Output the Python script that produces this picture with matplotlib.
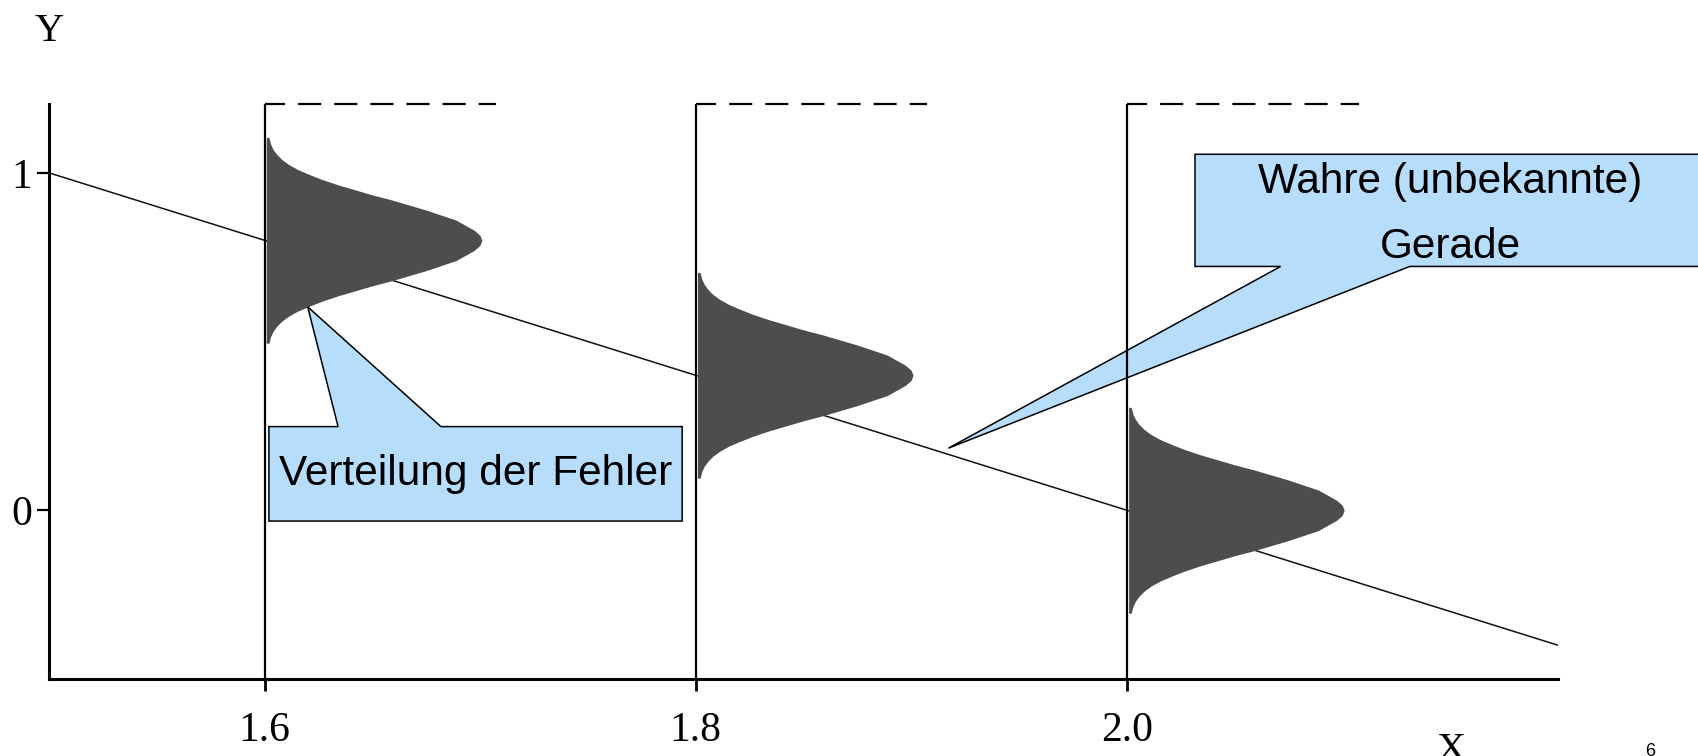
#!/usr/bin/env python3
# -*- coding: utf-8 -*-
"""
Regressionsmodell: wahre Gerade mit Fehlerverteilungen an drei x-Stellen
"""

import matplotlib
matplotlib.use('Agg')
import matplotlib.pyplot as plt
from matplotlib.patches import Polygon

# Daten
gerade_x = [1.5, 2.2]
gerade_y = [1.0, -0.4]

x_stellen = [1.6, 1.8, 2.0]
y_mitte = [0.8, 0.4, 0.0]

# Profil der Fehlerverteilung (halbe Seite, Abstand vom Mittelwert -> Breite in x)
profil_dy = [0.0, 0.015, 0.03, 0.045, 0.06, 0.075, 0.09, 0.105, 0.12, 0.135, 0.15,
             0.165, 0.18, 0.195, 0.21, 0.225, 0.24, 0.255, 0.27, 0.285, 0.305]
profil_breite = [0.100, 0.0991, 0.0964, 0.0922, 0.088, 0.081, 0.074, 0.066, 0.058, 0.049, 0.041,
                 0.033, 0.026, 0.020, 0.0145, 0.0103, 0.0071, 0.0048, 0.0031, 0.002, 0.0012]

x_ticks = [1.6, 1.8, 2.0]
x_ticklabels = ['1.6', '1.8', '2.0']
y_ticks = [0, 1]
y_ticklabels = ['0', '1']

HELLBLAU = '#B7DDFC'
GRAU = '#4D4D4D'

plt.rcParams['font.family'] = ['Liberation Serif', 'DejaVu Serif']


def callout(ax, box, basis, spitze, unten):
    """Sprechblase als Polygon in Datenkoordinaten"""
    x0, x1, y0, y1 = box
    b1, b2 = basis
    if unten:
        pts = [(x0, y1), (x1, y1), (x1, y0), (b2, y0), spitze, (b1, y0), (x0, y0)]
    else:
        pts = [(x0, y0), (x1, y0), (x1, y1), (b2, y1), spitze, (b1, y1), (x0, y1)]
    ax.add_patch(Polygon(pts, closed=True, facecolor=HELLBLAU, edgecolor='black',
                         linewidth=1.1, zorder=3, clip_on=False))


fig = plt.figure(figsize=(16.99, 7.56), dpi=100)
ax = fig.add_axes([0.02884, 0.10185, 0.8882, 0.76058])
ax.set_xlim(1.5, 2.2)
ax.set_ylim(-0.5, 1.204)

for s in ['top', 'right']:
    ax.spines[s].set_visible(False)
for s in ['left', 'bottom']:
    ax.spines[s].set_linewidth(2.2)

# wahre Gerade
ax.plot(gerade_x, gerade_y, color='#111111', linewidth=1.1, zorder=1)

# Fehlerverteilungen
dy_voll = [-d for d in profil_dy[::-1]] + profil_dy[1:]
b_voll = profil_breite[::-1] + profil_breite[1:]
ylo, yhi = ax.get_ylim()
for xs, ym in zip(x_stellen, y_mitte):
    yy = [ym + d for d in dy_voll]
    xx = [xs + 0.0008 + b for b in b_voll]
    ax.fill_betweenx(yy, xs + 0.0008, xx, color=GRAU, linewidth=0, zorder=2)
    # senkrechte Linie und gestrichelte Oberkante
    ax.plot([xs, xs], [ylo, yhi], color='black', linewidth=1.6, zorder=4,
            clip_on=False, solid_capstyle='butt')
    ax.plot([xs, xs + 0.1075], [yhi, yhi], color='black', linewidth=1.6,
            linestyle=(1.35, (10.4, 5.85)), zorder=4, clip_on=False)

# Achsen
ax.set_xticks(x_ticks)
ax.set_xticklabels(x_ticklabels)
ax.set_yticks(y_ticks)
ax.set_yticklabels(y_ticklabels)
ax.tick_params(axis='x', length=8.6, width=2.0, pad=15, labelsize=30)
ax.tick_params(axis='y', length=8.6, width=1.6, pad=3.5, labelsize=30)

# Sprechblasen
callout(ax, (1.602, 1.7937, -0.032, 0.248), (1.6341, 1.6818), (1.62, 0.603), unten=False)
ax.text((1.602 + 1.7937) / 2, 0.108, 'Verteilung der Fehler', family='Liberation Sans',
        fontsize=30.5, ha='center', va='center', zorder=5)

callout(ax, (2.0316, 2.35, 0.7226, 1.055), (2.0713, 2.1312), (1.9172, 0.184), unten=True)
ax.text(2.150, 0.974, 'Wahre (unbekannte)', family='Liberation Sans',
        fontsize=30.5, ha='center', va='center', zorder=5, clip_on=False)
ax.text(2.150, 0.781, 'Gerade', family='Liberation Sans',
        fontsize=30.5, ha='center', va='center', zorder=5, clip_on=False)

# Achsenbeschriftungen (unten im Original angeschnitten)
fig.text(49.3 / 1699, 1 - 41 / 756, 'Y', fontsize=29, ha='center', va='baseline')
fig.text(1451 / 1699, 1 - 760 / 756, 'X', fontsize=29, ha='center', va='baseline')
fig.text(1650 / 1699, 1 - 756 / 756, '6', family='Liberation Sans', fontsize=13,
         ha='center', va='baseline')

fig.savefig('out.png', dpi=100, facecolor='white')
plt.close(fig)
